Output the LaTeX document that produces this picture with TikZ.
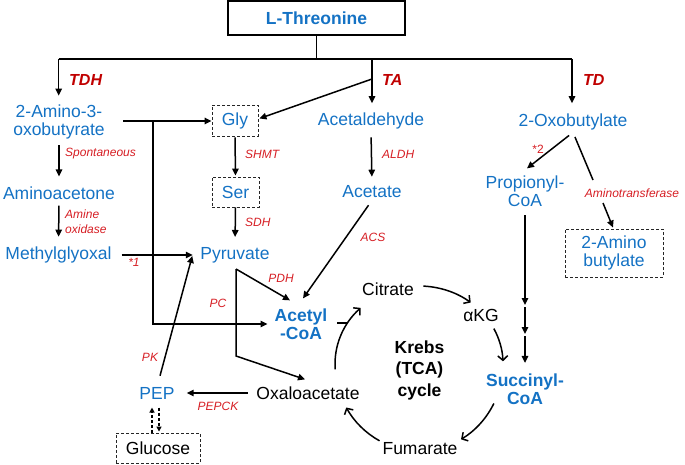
\documentclass[tikz,border=0pt]{standalone}
\usepackage{fontspec}
\setmainfont{Liberation Sans}
\usetikzlibrary{arrows.meta,calc}
\definecolor{cblue}{RGB}{20,114,196}
\definecolor{cred}{RGB}{192,0,0}
\definecolor{lred}{RGB}{214,30,36}
\begin{document}
\begin{tikzpicture}[x=1pt,y=-1pt,
  every node/.style={inner sep=2pt},
  met/.style={text=cblue,font=\fontsize{17.5}{18}\selectfont,align=center},
  metb/.style={text=cblue,font=\fontsize{17.5}{18}\selectfont\bfseries,align=center},
  blk/.style={text=black,font=\fontsize{17.5}{18}\selectfont,align=center},
  enz/.style={text=lred,font=\fontsize{12}{15}\selectfont\itshape,align=left},
  enzb/.style={text=cred,font=\fontsize{16}{18}\selectfont\bfseries\itshape},
  dbox/.style={draw=black!85,dash pattern=on 3pt off 2pt,line width=0.9pt},
  ln/.style={line width=1.5pt},
  arr/.style={ln,-{Triangle[length=7pt,width=6.5pt]}},
  darr/.style={line width=1.3pt,dash pattern=on 3pt off 2pt,-{Triangle[length=5pt,width=5pt]}},
  cyc/.style={ln,-{Straight Barb[length=4.5pt,width=10pt,line width=1.5pt]}},
]
\useasboundingbox (0,0) rectangle (685,465);

% title
\node[draw,line width=1.8pt,minimum width=177pt,minimum height=34pt,text=cblue,
      font=\fontsize{17.5}{18}\selectfont\bfseries] (thr) at (316.5,18) {L-Threonine};

% metabolites
\node[met] (ab) at (59,122) {2-Amino-3-\\oxobutyrate};
\node[met] (aa) at (59,193) {Aminoacetone};
\node[met] (mg) at (58.5,255) {Methylglyoxal};
\node[met,dbox,minimum width=46pt,minimum height=31pt] (gly) at (235,120.5) {Gly};
\node[met,dbox,minimum width=47pt,minimum height=30pt] (ser) at (235.5,192) {Ser};
\node[met] (pyr) at (235,255) {Pyruvate};
\node[met] (ad) at (371,121) {Acetaldehyde};
\node[met] (ac) at (372,192) {Acetate};
\node[metb] (acoa) at (301,324) {Acetyl\\-CoA};
\node[met] (ob) at (573,122) {2-Oxobutylate};
\node[met] (pc) at (525,191) {Propionyl-\\CoA};
\node[met,dbox,minimum width=98pt,minimum height=48pt] (amb) at (614,253) {2-Amino\\butylate};
\node[metb] (sc) at (525,389) {Succinyl-\\CoA};
\node[blk] (cit) at (388,289) {Citrate};
\node[blk] (akg) at (481,315) {αKG};
\node[blk,font=\fontsize{17.5}{21.5}\selectfont\bfseries] (krebs) at (419.5,370) {Krebs\\(TCA)\\cycle};
\node[blk] (fum) at (420,449) {Fumarate};
\node[blk] (oxa) at (308,393) {Oxaloacetate};
\node[met] (pep) at (157,393) {PEP};
\node[blk,dbox,minimum width=84pt,minimum height=30pt] (glc) at (158,448) {Glucose};

% enzyme labels
\node[enzb,anchor=west] (tdh) at (67,80) {TDH};
\node[enzb,anchor=west] (ta) at (380,80) {TA};
\node[enzb,anchor=west] (td) at (581,80) {TD};
\node[enz,anchor=west] (spo) at (63,154) {Spontaneous};
\node[enz,anchor=west] (amo) at (63,221.5) {Amine\\oxidase};
\node[enz] (st1) at (134,262) {*1};
\node[enz,anchor=west] (shmt) at (243,154) {SHMT};
\node[enz,anchor=west] (sdh) at (243,222) {SDH};
\node[enz,anchor=west] (aldh) at (380,154) {ALDH};
\node[enz] (acs) at (373,237) {ACS};
\node[enz] (pdh) at (281,278) {PDH};
\node[enz] (pcl) at (218,303) {PC};
\node[enz] (pk) at (150,357) {PK};
\node[enz] (pepck) at (218,406) {PEPCK};
\node[enz,font=\fontsize{12}{15}\selectfont] (st2) at (538,149) {*2};
\node[enz] (at) at (632,193) {Aminotransferase};

% junctions
\coordinate (jT) at (316.5,59);
\coordinate (jL) at (58.7,59);
\coordinate (jR) at (572,59);
\coordinate (jM) at (372,59);
\coordinate (gA) at (372,79);
\coordinate (abx) at (123,121);
\coordinate (jB) at (153,121);
\coordinate (pyb) at (236,269);
\coordinate (pcc) at (236,356);
\coordinate (tk) at (347.5,323);
\coordinate (atA) at (593,180);
\coordinate (atB) at (603,203);
\coordinate (s1) at (525,305);
\coordinate (s2) at (525,334);
\coordinate (kc) at (419,364);

% top tree
\draw[ln] (thr.south) -- (jT);
\draw[ln] (jL) -- (jR);
\draw[arr,shorten >=7pt] (jL) -- (jL |- ab.north);
\draw[arr,shorten >=7.5pt] (jM) -- (jM |- ad.north);
\draw[arr,shorten >=8.5pt] (jR) -- (jR |- ob.north);
\draw[arr] (gA) -- ($(gly.east)+(1,-2)$);

% left column
\draw[arr,shorten <=4pt,shorten >=8pt] (ab.south) -- (aa.north);
\draw[arr,shorten <=4pt,shorten >=8pt] (aa.south) -- (mg.north);
\draw[arr] (abx) -- (abx -| gly.west);
\draw[arr,shorten >=5pt] (jB) |- (acoa.west);
\draw[arr,shorten <=8pt,shorten >=5.5pt] (mg.east) -- (mg.east -| pyr.west);

% middle column
\draw[arr,shorten <=1pt,shorten >=1pt] (gly.south) -- (ser.north);
\draw[arr,shorten >=8pt] (ser.south) -- (pyr.north);
\draw[arr,shorten <=6pt,shorten >=7pt] (ad.south) -- (ac.north);
\draw[arr,shorten <=6pt] (ac.south) -- ($(acoa.north)+(2,-8)$);
\draw[arr] (pyb) -- ($(acoa.north)+(-11,-6)$);
\draw[arr] (pyb) -- (pcc) -- ($(oxa.north)+(-3,-5)$);
\draw[arr,shorten <=6.5pt,shorten >=10pt] (oxa.west) -- (pep.east);
\draw[arr] ($(pep.north)+(3,-9)$) -- ($(pyr.west)+(-6,1)$);
\draw[darr] ($(glc.north)+(-6,0)$) -- ($(glc.north)+(-6,-25)$);
\draw[darr] ($(glc.north)+(1,-25)$) -- ($(glc.north)+(1,-1)$);

% right column
\draw[arr,shorten <=5pt] (ob.south) -- ($(pc.north)+(2,-5)$);
\draw[ln,shorten <=5pt] (ob.south) -- (atA);
\draw[arr] (atB) -- ($(amb.north)+(-1,-1)$);
\draw[arr,shorten <=6.5pt] (pc.south) -- (s1);
\draw[arr,shorten <=2pt] (s1) -- (s2);
\draw[arr,shorten <=2pt,shorten >=8.5pt] (s2) -- (sc.north);

% Krebs cycle
\draw[ln,shorten <=8pt] (acoa.east |- tk) -- (tk);
\draw[cyc] ($(kc)+(176:84 and 78)$) arc[start angle=176,end angle=226,x radius=84,y radius=78];
\draw[cyc] ($(kc)+(273:84 and 78)$) arc[start angle=273,end angle=308,x radius=84,y radius=78];
\draw[cyc] ($(kc)+(333:84 and 78)$) arc[start angle=333,end angle=358,x radius=84,y radius=78];
\draw[cyc] ($(kc)+(27:84 and 87)$) arc[start angle=27,end angle=60,x radius=84,y radius=87];
\draw[cyc] ($(kc)+(118:84 and 87)$) arc[start angle=118,end angle=150,x radius=84,y radius=87];
\end{tikzpicture}
\end{document}
